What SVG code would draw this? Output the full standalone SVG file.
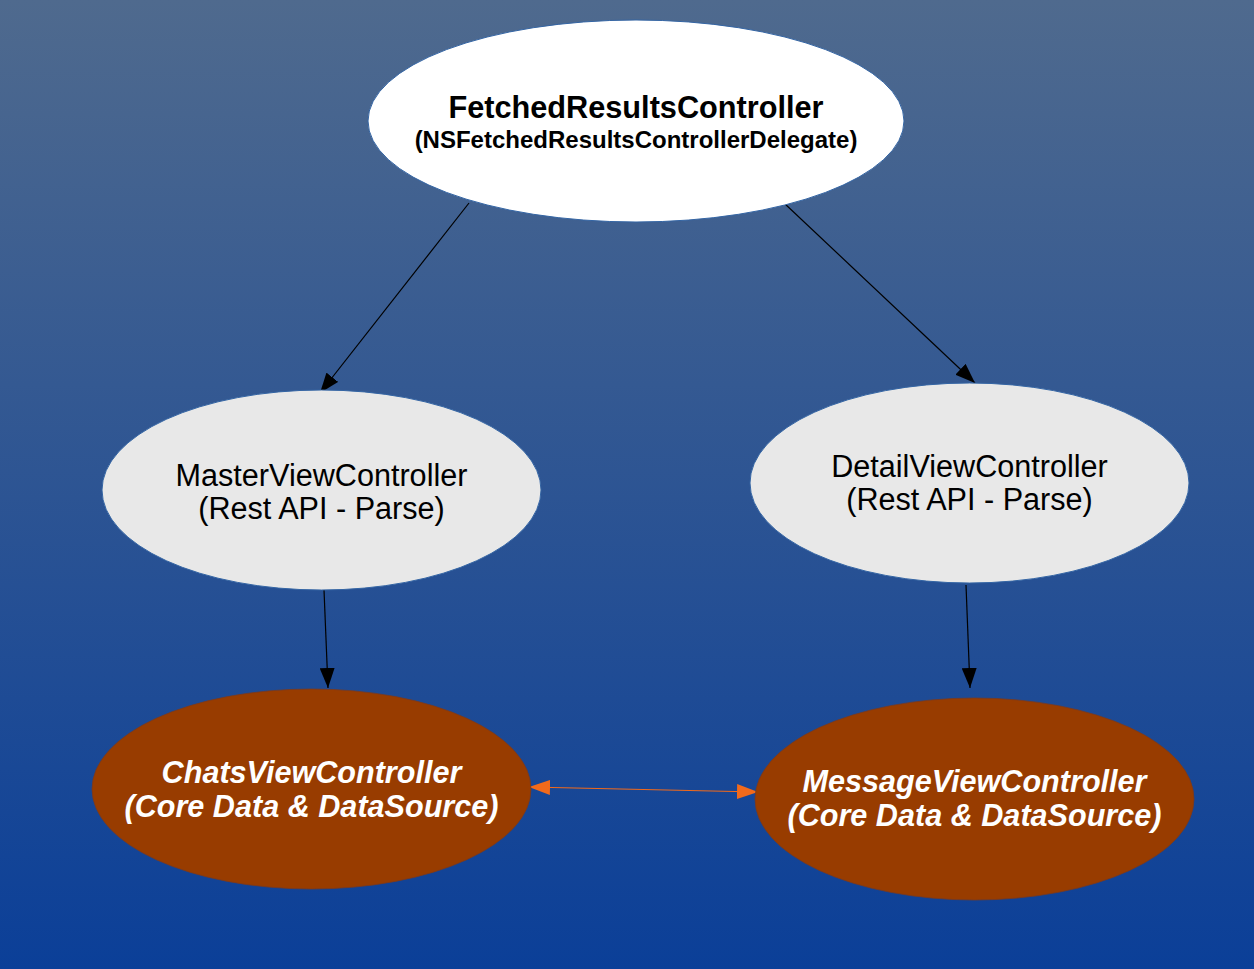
<svg xmlns="http://www.w3.org/2000/svg" width="1254" height="969" viewBox="0 0 1254 969">
<defs>
<linearGradient id="bg" x1="0" y1="0" x2="0" y2="1">
<stop offset="0" stop-color="#4f6a8e"/>
<stop offset="1" stop-color="#0b3f98"/>
</linearGradient>
<marker id="ab" viewBox="0 0 10 10" refX="10" refY="5" markerWidth="20" markerHeight="15" markerUnits="userSpaceOnUse" orient="auto" preserveAspectRatio="none"><path d="M0,0 L10,5 L0,10 z" fill="#000"/></marker>
<marker id="ao" viewBox="0 0 10 10" refX="10" refY="5" markerWidth="21" markerHeight="15" markerUnits="userSpaceOnUse" orient="auto" preserveAspectRatio="none"><path d="M0,0 L10,5 L0,10 z" fill="#f26a1b"/></marker>
<marker id="aos" viewBox="0 0 10 10" refX="0" refY="5" markerWidth="21" markerHeight="15" markerUnits="userSpaceOnUse" orient="auto" preserveAspectRatio="none"><path d="M10,0 L0,5 L10,10 z" fill="#f26a1b"/></marker>
</defs>
<style>
.t{font-family:"Liberation Sans",Arial,sans-serif;text-anchor:middle}
.b{font-weight:bold;fill:#000}
.n{fill:#000;font-size:30.6px}
.w{fill:#fff;font-weight:bold;font-style:italic;font-size:30.6px}
.e1{fill:#fff;stroke:#3465a4;stroke-width:1}
.e2{fill:#e8e8e8;stroke:#3465a4;stroke-width:1}
.e3{fill:#983c00;stroke:#7a3a20;stroke-width:0.8}
.c{stroke:#000;stroke-width:1.2;fill:none;marker-end:url(#ab)}
</style>
<rect width="1254" height="969" fill="url(#bg)"/>
<g id="connectors">
<line class="c" x1="469" y1="203" x2="320" y2="393"/>
<line class="c" x1="784" y1="203" x2="975" y2="383"/>
<line class="c" x1="324" y1="590" x2="328" y2="688"/>
<line class="c" x1="966" y1="585" x2="970" y2="688"/>
<line x1="529" y1="787" x2="758" y2="792" stroke="#f26a1b" stroke-width="1.2" marker-start="url(#aos)" marker-end="url(#ao)"/>
</g>
<g id="fetched">
<ellipse class="e1" cx="636" cy="121" rx="268" ry="101"/>
<text class="t b" x="636" y="118" font-size="30.7">FetchedResultsController</text>
<text class="t b" x="636" y="148" font-size="24">(NSFetchedResultsControllerDelegate)</text>
</g>
<g id="master">
<ellipse class="e2" cx="321.5" cy="490" rx="219.5" ry="100"/>
<text class="t n" x="321.5" y="486">MasterViewController</text>
<text class="t n" x="321.5" y="519">(Rest API - Parse)</text>
</g>
<g id="detail">
<ellipse class="e2" cx="969.5" cy="483" rx="219.5" ry="100"/>
<text class="t n" x="969.5" y="477">DetailViewController</text>
<text class="t n" x="969.5" y="510">(Rest API - Parse)</text>
</g>
<g id="chats">
<ellipse class="e3" cx="311.5" cy="789" rx="219.5" ry="100"/>
<text class="t w" x="311.5" y="783">ChatsViewController</text>
<text class="t w" x="311.5" y="817">(Core Data &amp; DataSource)</text>
</g>
<g id="message">
<ellipse class="e3" cx="974.5" cy="799" rx="219.5" ry="101"/>
<text class="t w" x="974.5" y="792">MessageViewController</text>
<text class="t w" x="974.5" y="826">(Core Data &amp; DataSource)</text>
</g>
</svg>
